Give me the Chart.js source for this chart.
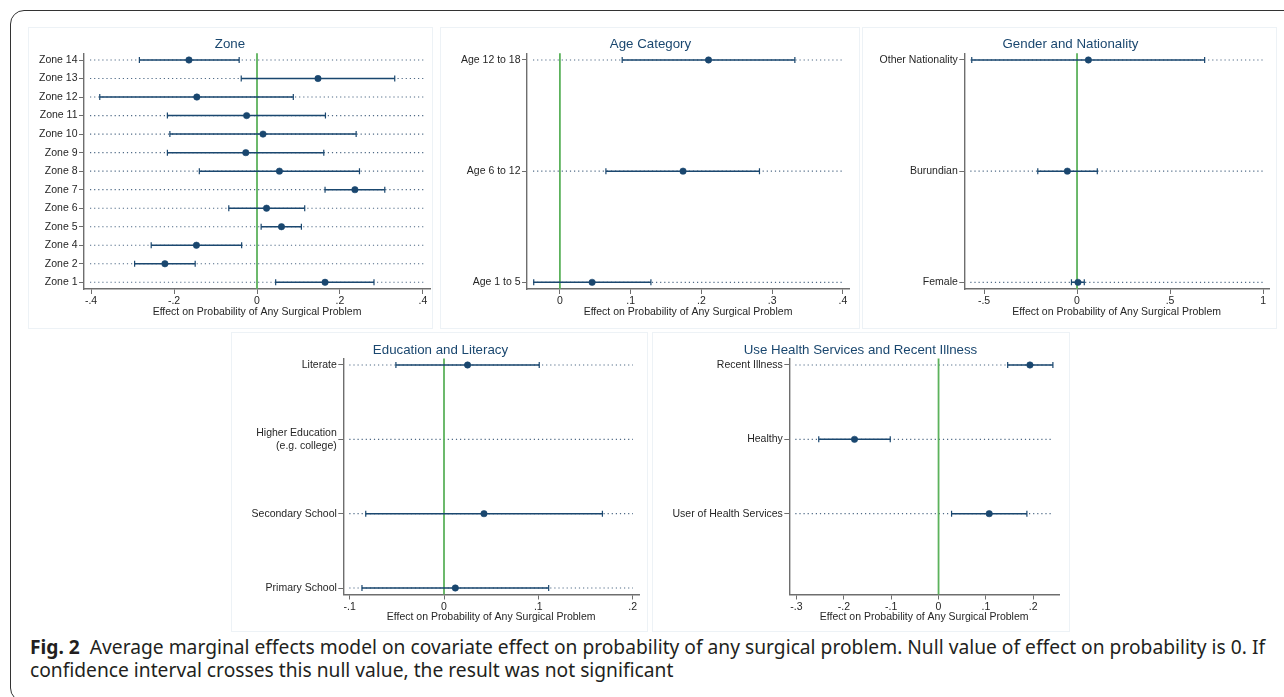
<!DOCTYPE html>
<html>
<head>
<meta charset="utf-8">
<script src="https://cdn.jsdelivr.net/npm/chart.js@4.4.1/dist/chart.umd.min.js"></script>
<style>
  html, body { margin: 0; padding: 0; background: #fff; }
  body { width: 1284px; height: 697px; overflow: hidden; position: relative; }
  .frame { position: absolute; left: 10px; top: 10px; width: 1300px; height: 692px;
           border: 1.3px solid #333; border-radius: 14px; box-sizing: border-box; }
  .panel { position: absolute; border: 1px solid #edf2f6; box-sizing: border-box; }
  canvas { position: absolute; }
  #caption { position: absolute; left: 30px; top: 636px; font-family: 'Noto Sans', 'Open Sans', sans-serif;
             font-size: 19px; line-height: 23px; color: #231f20; white-space: nowrap; transform-origin: 0 0; }
  #caption b { font-weight: 700; }
</style>
</head>
<body>
<div class="frame"></div>
<div class="panel" style="left:28px;top:27px;width:405px;height:302px"></div>
<div class="panel" style="left:440px;top:27px;width:420px;height:302px"></div>
<div class="panel" style="left:862px;top:27px;width:415px;height:302px"></div>
<div class="panel" style="left:231px;top:332px;width:417px;height:300px"></div>
<div class="panel" style="left:652px;top:332px;width:418px;height:300px"></div>

<canvas id="zone"></canvas>
<canvas id="age"></canvas>
<canvas id="gender"></canvas>
<canvas id="edu"></canvas>
<canvas id="health"></canvas>

<div id="caption"><span id="l1"><b>Fig. 2</b>&nbsp; Average marginal effects model on covariate effect on probability of any surgical problem. Null value of effect on probability is 0. If</span><br><span id="l2">confidence interval crosses this null value, the result was not significant</span></div>

<script>
// ---------------- DATA ----------------
const axisTitle = 'Effect on Probability of Any Surgical Problem';
const nullValue = 0;

const zoneTitle = 'Zone';
const zoneCats = ['Zone 14','Zone 13','Zone 12','Zone 11','Zone 10','Zone 9','Zone 8','Zone 7','Zone 6','Zone 5','Zone 4','Zone 2','Zone 1'];
const zoneEst  = [-0.164, 0.147, -0.145, -0.025, 0.0145, -0.027, 0.054, 0.236, 0.023, 0.059, -0.146, -0.222, 0.164];
const zoneLo   = [-0.2835, -0.038, -0.379, -0.216, -0.210, -0.216, -0.139, 0.164, -0.068, 0.010, -0.255, -0.295, 0.045];
const zoneHi   = [-0.043, 0.332, 0.0875, 0.165, 0.239, 0.161, 0.247, 0.308, 0.115, 0.107, -0.037, -0.149, 0.282];
const zoneTicks = [-0.4, -0.2, 0, 0.2, 0.4];

const ageTitle = 'Age Category';
const ageCats = ['Age 12 to 18', 'Age 6 to 12', 'Age 1 to 5'];
const ageEst  = [0.210, 0.174, 0.0455];
const ageLo   = [0.088, 0.065, -0.037];
const ageHi   = [0.332, 0.282, 0.1286];
const ageTicks = [0, 0.1, 0.2, 0.3, 0.4];

const genderTitle = 'Gender and Nationality';
const genderCats = ['Other Nationality', 'Burundian', 'Female'];
const genderEst  = [0.061, -0.052, 0.005];
const genderLo   = [-0.566, -0.211, -0.030];
const genderHi   = [0.686, 0.109, 0.039];
const genderTicks = [-0.5, 0, 0.5, 1];

const eduTitle = 'Education and Literacy';
const eduCats = ['Literate', ['Higher Education', '(e.g. college)'], 'Secondary School', 'Primary School'];
const eduEst  = [0.025, null, 0.0424, 0.012];
const eduLo   = [-0.051, null, -0.083, -0.087];
const eduHi   = [0.101, null, 0.168, 0.111];
const eduTicks = [-0.1, 0, 0.1, 0.2];

const healthTitle = 'Use Health Services and Recent Illness';
const healthCats = ['Recent Illness', 'Healthy', 'User of Health Services'];
const healthEst  = [0.193, -0.1775, 0.107];
const healthLo   = [0.146, -0.253, 0.0275];
const healthHi   = [0.2415, -0.102, 0.1866];
const healthTicks = [-0.3, -0.2, -0.1, 0, 0.1, 0.2];

// ---------------- STYLE / LAYOUT ----------------
const NAVY = '#1a476f';
const GREEN = '#5cb25c';
const AXIS = '#6e6e6e';
const TEXT = '#262626';
const DOTS = '#4f6a86';
const FAMILY = "'Liberation Sans', Arial, Helvetica, sans-serif";
Chart.defaults.font.family = FAMILY;

const topRow = { top: 28, height: 300, xAxisH: 39, titlePad: { top: 8.32, bottom: 1.02 }, axisTitlePad: 9.4 };
const botRow = { top: 334, height: 298, xAxisH: 37.5, titlePad: { top: 8.02, bottom: 0.52 }, axisTitlePad: 8.4 };

const layouts = {
  zone:   Object.assign({ left: 20,  width: 420, yAxisW: 54,    xRange: [-0.417, 0.417],   yRange: [-0.362, 12.362] }, topRow),
  age:    Object.assign({ left: 442, width: 417, yAxisW: 75,    xRange: [-0.0465, 0.4085], yRange: [-0.06, 2.06] }, topRow),
  gender: Object.assign({ left: 862, width: 417, yAxisW: 92.3,  xRange: [-0.606, 1.032],   yRange: [-0.06, 2.06] }, topRow),
  edu:    Object.assign({ left: 232, width: 417, yAxisW: 101.3, xRange: [-0.1068, 0.2068], yRange: [-0.0874, 3.0874] }, botRow),
  health: Object.assign({ left: 652, width: 417, yAxisW: 127.3, xRange: [-0.3152, 0.2544], yRange: [-0.0874, 3.0874] }, botRow)
};

function fmt(v) {
  if (v === 0) return '0';
  return (Math.round(v * 10) / 10).toString().replace(/^(-?)0\./, '$1.');
}

const guides = {
  id: 'guides',
  beforeDatasetsDraw(chart) {
    const { ctx, chartArea: a, scales: { x, y } } = chart;
    ctx.save();
    ctx.strokeStyle = DOTS;
    ctx.lineWidth = 1.1;
    ctx.setLineDash([1.2, 2.9]);
    y.ticks.forEach(t => {
      const py = y.getPixelForValue(t.value);
      ctx.beginPath();
      ctx.moveTo(a.left + 6, py);
      ctx.lineTo(a.right - 6, py);
      ctx.stroke();
    });
    ctx.setLineDash([]);
    const px = x.getPixelForValue(nullValue);
    ctx.strokeStyle = GREEN;
    ctx.lineWidth = 1.8;
    ctx.beginPath();
    ctx.moveTo(px, a.top);
    ctx.lineTo(px, a.bottom);
    ctx.stroke();
    ctx.restore();
  }
};

function makePanel(id, title, cats, est, lo, hi, xTicks) {
  const L = layouts[id];
  const cv = document.getElementById(id);
  cv.width = L.width; cv.height = L.height;
  cv.style.left = L.left + 'px'; cv.style.top = L.top + 'px';
  cv.style.width = L.width + 'px'; cv.style.height = L.height + 'px';

  const ci = [], caps = [], pts = [];
  cats.forEach((c, i) => {
    if (est[i] === null) return;
    ci.push({ x: lo[i], y: i }, { x: hi[i], y: i }, { x: null, y: null });
    caps.push({ x: lo[i], y: i }, { x: hi[i], y: i });
    pts.push({ x: est[i], y: i });
  });

  const tickFont = { family: FAMILY, size: 10.5, lineHeight: 1.2 };

  new Chart(cv, {
    type: 'scatter',
    data: {
      datasets: [
        { data: ci, showLine: true, spanGaps: false, borderColor: NAVY, borderWidth: 1.5, pointRadius: 0 },
        { data: caps, pointStyle: 'line', pointRotation: 90, pointRadius: 3, pointBorderWidth: 1.2,
          pointBorderColor: NAVY, borderColor: NAVY },
        { data: pts, pointStyle: 'circle', pointRadius: 3.2, pointBackgroundColor: NAVY,
          pointBorderColor: NAVY, pointBorderWidth: 0.6 }
      ]
    },
    options: {
      responsive: false,
      animation: false,
      devicePixelRatio: 1,
      events: [],
      layout: { padding: { left: 10, right: 10, top: 0, bottom: 0 } },
      plugins: {
        legend: { display: false },
        tooltip: { enabled: false },
        title: {
          display: true, text: title, color: NAVY,
          font: { family: FAMILY, size: 13.3, weight: 'normal', lineHeight: 1.2 },
          padding: L.titlePad
        }
      },
      scales: {
        x: {
          type: 'linear', min: L.xRange[0], max: L.xRange[1],
          afterBuildTicks: s => { s.ticks = xTicks.map(v => ({ value: v })); },
          afterFit: s => { s.height = L.xAxisH; },
          ticks: { callback: v => fmt(v), font: tickFont, color: TEXT, padding: 1.2, maxRotation: 0, autoSkip: false },
          grid: { drawOnChartArea: false, drawTicks: true, tickLength: 5, tickColor: AXIS, tickWidth: 1 },
          border: { display: true, color: AXIS, width: 1.4 },
          title: { display: true, text: axisTitle, color: TEXT, font: tickFont, padding: { top: 0, bottom: L.axisTitlePad } }
        },
        y: {
          type: 'linear', reverse: true, min: L.yRange[0], max: L.yRange[1],
          afterBuildTicks: s => { s.ticks = cats.map((c, i) => ({ value: i })); },
          afterFit: s => { s.width = L.yAxisW; },
          ticks: { callback: v => cats[v], font: tickFont, color: TEXT, padding: 1.5, autoSkip: false },
          grid: { drawOnChartArea: false, drawTicks: true, tickLength: 5, tickColor: AXIS, tickWidth: 1 },
          border: { display: true, color: AXIS, width: 1.4 }
        }
      }
    },
    plugins: [guides]
  });
}

makePanel('zone', zoneTitle, zoneCats, zoneEst, zoneLo, zoneHi, zoneTicks);
makePanel('age', ageTitle, ageCats, ageEst, ageLo, ageHi, ageTicks);
makePanel('gender', genderTitle, genderCats, genderEst, genderLo, genderHi, genderTicks);
makePanel('edu', eduTitle, eduCats, eduEst, eduLo, eduHi, eduTicks);
makePanel('health', healthTitle, healthCats, healthEst, healthLo, healthHi, healthTicks);

// caption width fit (line 1 spans x=30..1265 in the reference)
(function fitCaption() {
  const cap = document.getElementById('caption');
  const w = document.getElementById('l1').getBoundingClientRect().width;
  if (w > 0) cap.style.transform = 'scaleX(' + (1235 / w) + ')';
})();
</script>
</body>
</html>
